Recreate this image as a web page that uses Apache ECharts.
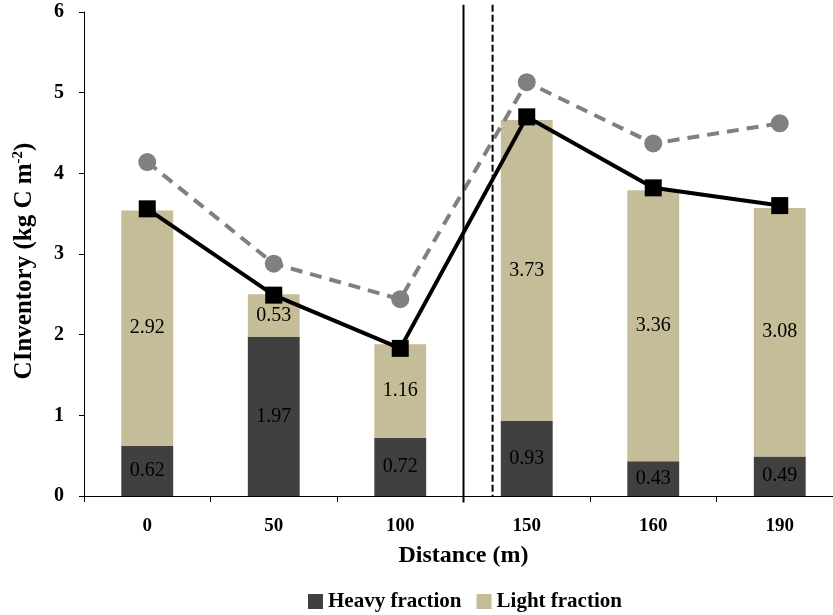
<!DOCTYPE html>
<html>
<head>
<meta charset="utf-8">
<script src="https://cdn.jsdelivr.net/npm/echarts@6/dist/echarts.min.js"></script>
<style>html,body{margin:0;padding:0;background:#fff}#c{width:833px;height:615px}</style>
</head>
<body>
<div id="c"></div>
<script>
var categories = ['0', '50', '100', '150', '160', '190'];
var heavyFraction = [0.62, 1.97, 0.72, 0.93, 0.43, 0.49];
var lightFraction = [2.92, 0.53, 1.16, 3.73, 3.36, 3.08];
var blackLine = [3.56, 2.49, 1.83, 4.70, 3.82, 3.60];
var grayLine = [4.14, 2.88, 2.44, 5.13, 4.37, 4.62];
var solidDivider = [[2.5, 6.09], [2.5, -0.08]];
var dashedDivider = [[2.73, 6.09], [2.73, 0]];

var serif = '"Liberation Serif", "Times New Roman", serif';
var chart = echarts.init(document.getElementById('c'), null, {renderer: 'canvas'});
chart.setOption({
  animation: false,
  backgroundColor: '#fff',
  grid: {left: 84, top: 12, width: 759, height: 484, containLabel: false, outerBoundsMode: 'none'},
  legend: {
    data: ['Heavy fraction', 'Light fraction'],
    top: 586, left: 303,
    itemWidth: 15, itemHeight: 15, itemGap: 15,
    icon: 'rect',
    textStyle: {fontFamily: serif, fontWeight: 'bold', fontSize: 21, color: '#000'}
  },
  xAxis: [{
    type: 'category',
    data: categories,
    name: 'Distance (m)',
    nameLocation: 'middle',
    nameGap: 48,
    nameTextStyle: {fontFamily: serif, fontWeight: 'bold', fontSize: 24, color: '#000'},
    axisLine: {lineStyle: {color: '#000', width: 1}},
    axisTick: {show: true, length: 6, lineStyle: {color: '#000'}},
    axisLabel: {fontFamily: serif, fontWeight: 'bold', fontSize: 19, color: '#000', margin: 21}
  }, {
    type: 'value', min: -0.5, max: 5.5, show: false
  }],
  yAxis: {
    type: 'value',
    min: 0, max: 6, interval: 1,
    name: '{a|CInventory (kg C m}{s|-2}{a|)}',
    nameLocation: 'middle',
    nameGap: 45,
    nameTextStyle: {
      padding: [0, 14, 0, 0],
      rich: {
        a: {fontFamily: serif, fontWeight: 'bold', fontSize: 25, color: '#000', lineHeight: 28},
        s: {fontFamily: serif, fontWeight: 'bold', fontSize: 15, color: '#000', verticalAlign: 'top', lineHeight: 28, padding: [0, 0, 12, 0]}
      }
    },
    axisLine: {show: true, onZero: false, lineStyle: {color: '#000', width: 1}},
    axisTick: {show: true, length: 5, lineStyle: {color: '#000'}},
    splitLine: {show: false},
    axisLabel: {fontFamily: serif, fontWeight: 'bold', fontSize: 20, color: '#000', margin: 20}
  },
  series: [{
    name: 'Heavy fraction',
    type: 'bar', stack: 'tot',
    data: heavyFraction,
    barWidth: '41%',
    itemStyle: {color: '#404040'},
    label: {show: true, position: 'inside', fontFamily: serif, fontSize: 20, color: '#000', formatter: function (p) { return p.value.toFixed(2); }}
  }, {
    name: 'Light fraction',
    type: 'bar', stack: 'tot',
    data: lightFraction,
    barWidth: '41%',
    itemStyle: {color: '#C4BD97'},
    label: {show: true, position: 'inside', fontFamily: serif, fontSize: 20, color: '#000', formatter: function (p) { return p.value.toFixed(2); }}
  }, {
    name: 'Total dashed',
    type: 'line',
    data: grayLine,
    symbol: 'circle', symbolSize: 18,
    itemStyle: {color: '#808080'},
    lineStyle: {color: '#808080', width: 4, type: [12, 8]},
    z: 3
  }, {
    name: 'Total',
    type: 'line',
    data: blackLine,
    symbol: 'rect', symbolSize: 17,
    itemStyle: {color: '#000'},
    lineStyle: {color: '#000', width: 4},
    z: 4
  }, {
    name: 'divider1',
    type: 'line', xAxisIndex: 1,
    data: solidDivider, clip: false,
    symbol: 'none',
    lineStyle: {color: '#000', width: 2},
    z: 5
  }, {
    name: 'divider2',
    type: 'line', xAxisIndex: 1,
    data: dashedDivider, clip: false,
    symbol: 'none',
    lineStyle: {color: '#000', width: 2, type: [7, 3]},
    z: 5
  }]
});
</script>
</body>
</html>
